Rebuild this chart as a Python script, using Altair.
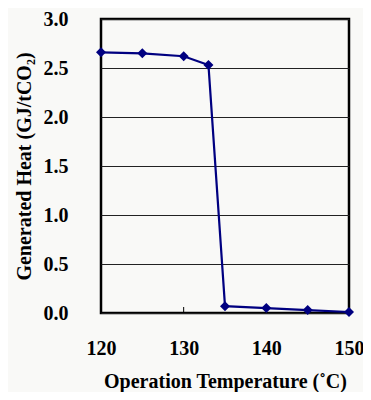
import altair as alt
import pandas as pd

temps = [120, 125, 130, 133, 135, 140, 145, 150]
heat = [2.66, 2.65, 2.62, 2.53, 0.07, 0.05, 0.03, 0.01]
x_ticks = [120, 130, 140, 150]
y_ticks = [0.0, 0.5, 1.0, 1.5, 2.0, 2.5, 3.0]

df = pd.DataFrame({"T": temps, "H": heat})
ticks_df = pd.DataFrame({"T": x_ticks})

W, H = 248, 294
FONT = "Liberation Serif"
NAVY = "#000080"

xs = alt.Scale(domain=[120, 150], nice=False, zero=False)
ys = alt.Scale(domain=[0, 3], nice=False, zero=False)

x = alt.X("T:Q", scale=xs,
          axis=alt.Axis(values=x_ticks, format="d", title="Operation Temperature (˚C)",
                        grid=False, ticks=False, domain=False, labelPadding=25,
                        labelFlush=False, titlePadding=13, titleFontSize=20))
y = alt.Y("H:Q", scale=ys,
          axis=alt.Axis(values=y_ticks, format=".1f", title="Generated Heat (GJ/tCO₂)",
                        grid=True, gridColor="#222222", gridWidth=1, ticks=False,
                        domain=False, labelPadding=33, titlePadding=9, titleFontSize=20,
                        labelFlush=False))

line = alt.Chart(df).mark_line(color=NAVY, strokeWidth=2.2).encode(x=x, y=y)
pts = alt.Chart(df).mark_point(shape="diamond", filled=True, color=NAVY, size=100, opacity=1).encode(
    x=alt.X("T:Q", scale=xs), y=alt.Y("H:Q", scale=ys))
tk = alt.Chart(ticks_df).mark_rule(color="black", strokeWidth=1).encode(
    x=alt.X("T:Q", scale=xs), y=alt.value(H), y2=alt.value(H - 6))

chart = alt.layer(line, tk, pts).properties(
    width=W, height=H, autosize=alt.AutoSizeParams(type="none"),
    padding={"left": 93, "top": 11, "right": 14, "bottom": 79},
    background="#f9f9f7"
).configure_view(stroke="black", strokeWidth=2.5, fill="#f9f9f7").configure_axis(
    labelFont=FONT, titleFont=FONT, labelFontSize=20,
    labelFontWeight="bold", titleFontWeight="bold", labelColor="black", titleColor="black"
)

chart.save("out.html", embed_options={"renderer": "svg", "actions": False})
